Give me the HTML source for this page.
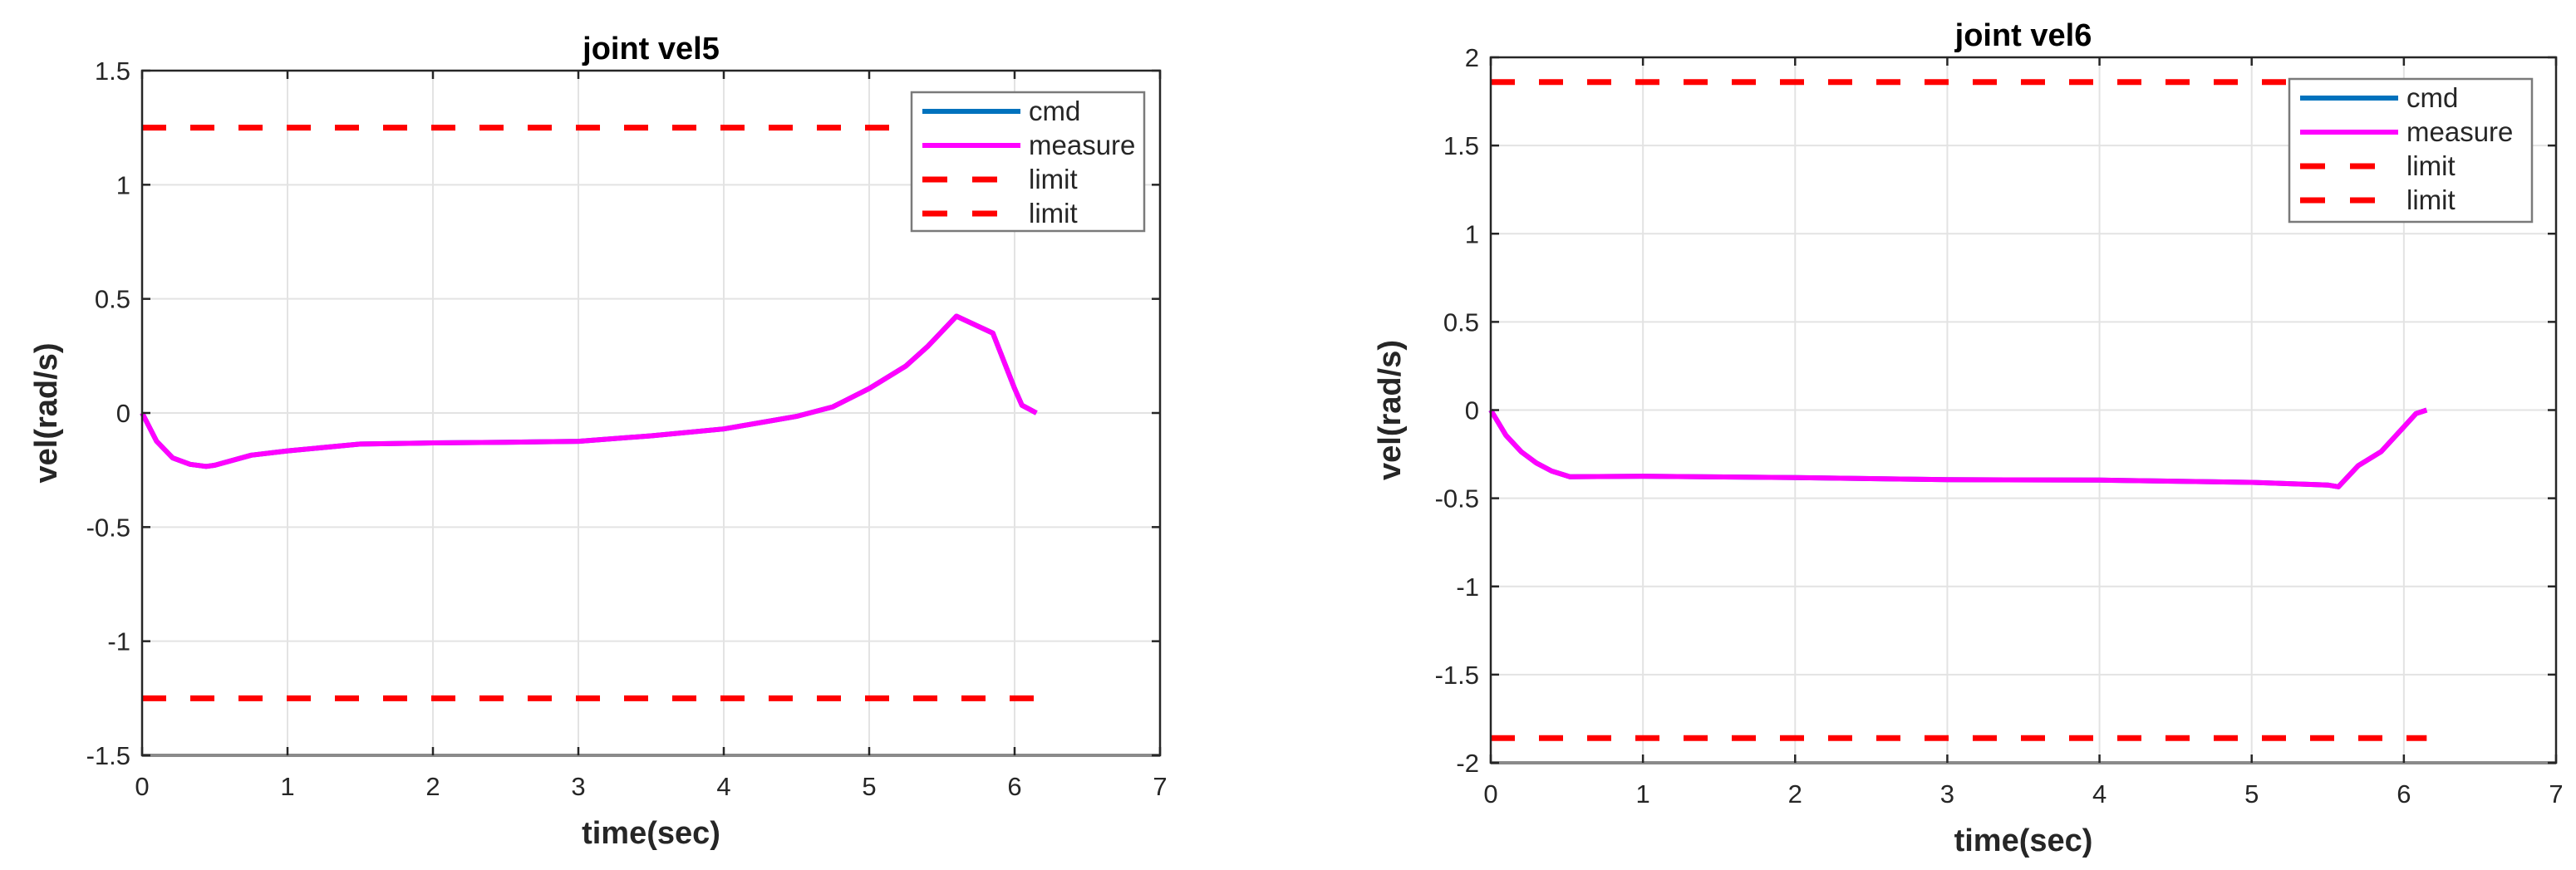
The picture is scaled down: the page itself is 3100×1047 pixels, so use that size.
<!DOCTYPE html>
<html><head><meta charset="utf-8"><style>
html,body{margin:0;padding:0;background:#fff;}
svg{display:block;font-family:"Liberation Sans",Arial,sans-serif;}
</style></head><body>
<svg id="fig" width="3100" height="1047" viewBox="0 0 3100 1047" xmlns="http://www.w3.org/2000/svg"></svg>
<script>
// ---- data ----
const xTicks = [0,1,2,3,4,5,6,7];
const yTicks5 = [-1.5,-1,-0.5,0,0.5,1,1.5];
const yTickLabels5 = ["-1.5","-1","-0.5","0","0.5","1","1.5"];
const yTicks6 = [-2,-1.5,-1,-0.5,0,0.5,1,1.5,2];
const yTickLabels6 = ["-2","-1.5","-1","-0.5","0","0.5","1","1.5","2"];
const t5 = [0,0.1,0.21,0.33,0.44,0.5,0.75,1,1.5,2,2.5,3,3.5,4,4.5,4.75,5,5.25,5.4,5.6,5.85,6.0,6.05,6.15];
const vel5 = [0,-0.124,-0.197,-0.225,-0.234,-0.229,-0.185,-0.166,-0.136,-0.131,-0.128,-0.124,-0.10,-0.07,-0.015,0.027,0.107,0.205,0.29,0.424,0.35,0.107,0.034,0];
const t6 = [0,0.1,0.2,0.3,0.4,0.52,1,2,3,4,5,5.5,5.57,5.7,5.85,6.0,6.08,6.15];
const vel6 = [0,-0.143,-0.236,-0.30,-0.346,-0.378,-0.375,-0.383,-0.395,-0.397,-0.41,-0.425,-0.435,-0.315,-0.236,-0.095,-0.02,0];
const limit5 = [1.25,-1.25];
const limit6 = [1.86,-1.86];
const limitEnd = 6.15;

const NS="http://www.w3.org/2000/svg";
const svg=document.getElementById('fig');
function mk(tag,attrs,parent){const e=document.createElementNS(NS,tag);for(const k in attrs)e.setAttribute(k,attrs[k]);(parent||svg).appendChild(e);return e;}

function drawPlot(cfg){
  const g=mk('g',{});
  
  
  const X=v=>cfg.x0+(v-0)/(7-0)*(cfg.x1-cfg.x0);
  const Y=v=>cfg.y1-(v-cfg.ymin)/(cfg.ymax-cfg.ymin)*(cfg.y1-cfg.y0);
  // grid
  xTicks.forEach(v=>{const l=mk('line',{x1:X(v),x2:X(v),y1:cfg.y0,y2:cfg.y1,stroke:'#e3e3e3','stroke-width':2},g);
    });
  cfg.yt.forEach(v=>{const l=mk('line',{x1:cfg.x0,x2:cfg.x1,y1:Y(v),y2:Y(v),stroke:'#e3e3e3','stroke-width':2},g);
    });
  // limits
  cfg.lim.forEach(v=>{const l=mk('line',{x1:X(0),x2:X(limitEnd),y1:Y(v),y2:Y(v),stroke:'#ff0000','stroke-width':7,'stroke-dasharray':'29 29'},g);
    });
  const pts=cfg.t.map((t,i)=>X(t).toFixed(1)+','+Y(cfg.v[i]).toFixed(1)).join(' ');
  const c=mk('polyline',{points:pts,fill:'none',stroke:'#0072BD','stroke-width':6,'stroke-linejoin':'round'},g);
  
  const m=mk('polyline',{points:pts,fill:'none',stroke:'#ff00ff','stroke-width':6,'stroke-linejoin':'round'},g);
  
  // box
  const b=mk('rect',{x:cfg.x0,y:cfg.y0,width:cfg.x1-cfg.x0,height:cfg.y1-cfg.y0,fill:'none',stroke:'#262626','stroke-width':2.5},g);
  
  mk('line',{x1:cfg.x0,x2:cfg.x1,y1:cfg.y1,y2:cfg.y1,stroke:'#8a8a8a','stroke-width':4},g);
  // ticks
  xTicks.forEach((v,i)=>{
    mk('line',{x1:X(v),x2:X(v),y1:cfg.y1,y2:cfg.y1-10,stroke:'#262626','stroke-width':2.5},g);
    mk('line',{x1:X(v),x2:X(v),y1:cfg.y0,y2:cfg.y0+10,stroke:'#262626','stroke-width':2.5},g);
    const tx=mk('text',{x:X(v),y:cfg.y1+48,'font-size':31,fill:'#262626','text-anchor':'middle'},g);
    tx.textContent=String(v);
    
  });
  cfg.yt.forEach((v,i)=>{
    mk('line',{x1:cfg.x0,x2:cfg.x0+10,y1:Y(v),y2:Y(v),stroke:'#262626','stroke-width':2.5},g);
    mk('line',{x1:cfg.x1,x2:cfg.x1-10,y1:Y(v),y2:Y(v),stroke:'#262626','stroke-width':2.5},g);
    const tx=mk('text',{x:cfg.x0-14,y:Y(v)+11,'font-size':31,fill:'#262626','text-anchor':'end'},g);
    tx.textContent=cfg.ytl[i];
    
  });
  // labels
  const ti=mk('text',{x:(cfg.x0+cfg.x1)/2,y:cfg.y0-14,'font-size':38,'font-weight':'bold','text-anchor':'middle',fill:'#000'},g);
  ti.textContent=cfg.title;
  const xl=mk('text',{x:(cfg.x0+cfg.x1)/2,y:cfg.y1+106,'font-size':38,'font-weight':'bold','text-anchor':'middle',fill:'#262626'},g);
  xl.textContent='time(sec)';
  const yl=mk('text',{x:0,y:0,'font-size':38,'font-weight':'bold','text-anchor':'middle',fill:'#262626',transform:`translate(${cfg.ylx},${(cfg.y0+cfg.y1)/2}) rotate(-90)`},g);
  yl.textContent='vel(rad/s)';
  // legend
  const L=cfg.leg;
  const lg=mk('g',{},g);
  mk('rect',{x:L.x,y:L.y,width:L.w,height:L.h,fill:'#fff',stroke:'#7a7a7a','stroke-width':2.5},lg);
  const items=[['cmd','#0072BD',null],['measure','#ff00ff',null],['limit','#ff0000','30 30'],['limit','#ff0000','30 30']];
  items.forEach((it,i)=>{
    const yy=L.y+23+i*41;
    const e=mk('g',{},lg);
    const a={x1:L.x+13,x2:L.x+131,y1:yy,y2:yy,stroke:it[1],'stroke-width':it[2]?7:6};
    if(it[2])a['stroke-dasharray']=it[2];
    mk('line',a,e);
    const tx=mk('text',{x:L.x+141,y:yy+11,'font-size':33,fill:'#262626'},e);tx.textContent=it[0];
  });
}
drawPlot({name:'joint-vel5-chart',title:'joint vel5',x0:171,x1:1396,y0:85,y1:909,ymin:-1.5,ymax:1.5,yt:yTicks5,ytl:yTickLabels5,t:t5,v:vel5,lim:limit5,ylx:68,leg:{x:1097,y:111,w:280,h:167}});
drawPlot({name:'joint-vel6-chart',title:'joint vel6',x0:1794,x1:3076,y0:69,y1:918,ymin:-2,ymax:2,yt:yTicks6,ytl:yTickLabels6,t:t6,v:vel6,lim:limit6,ylx:1685,leg:{x:2755,y:95,w:292,h:172}});
</script>
</body></html>
